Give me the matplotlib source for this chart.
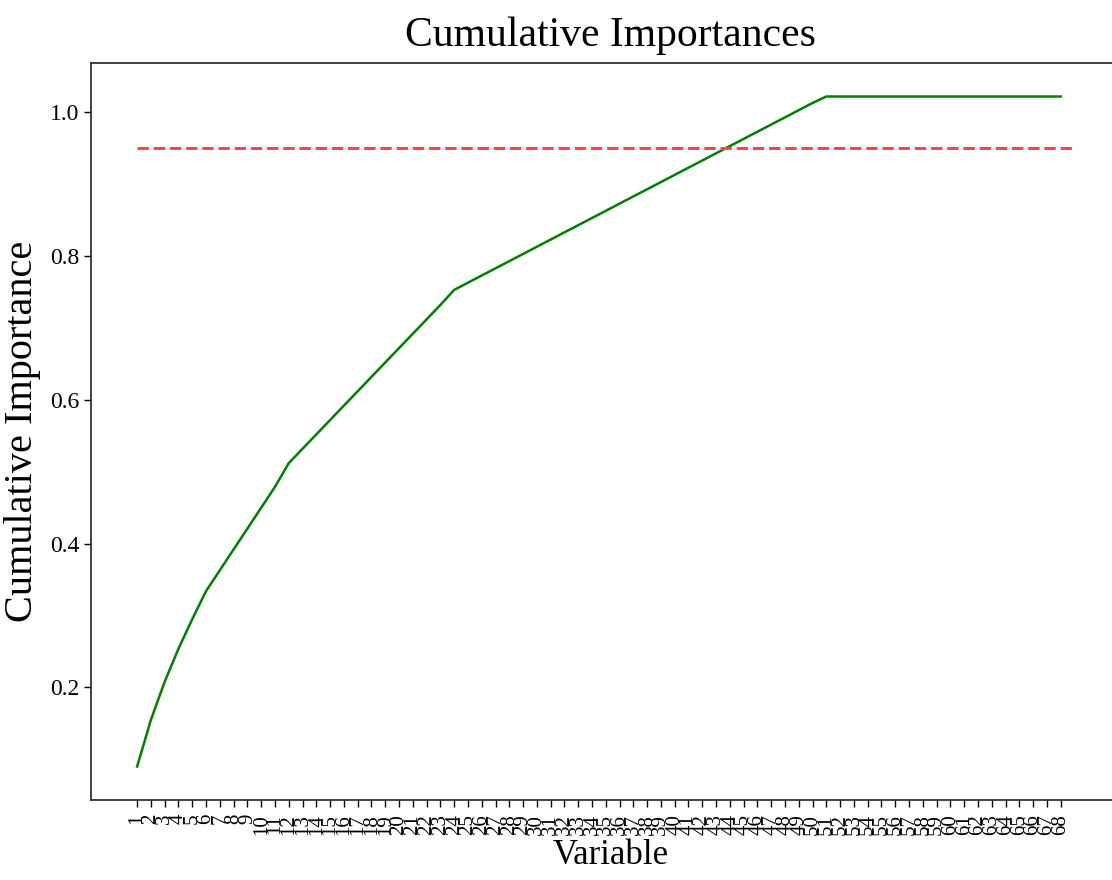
import matplotlib
matplotlib.use("Agg")
import matplotlib.pyplot as plt
import numpy as np

# Data
variable_labels = [str(i) for i in range(1, 69)]
cumulative_importances = [
    0.090, 0.155, 0.208, 0.254, 0.295, 0.334, 0.363, 0.392, 0.421, 0.450,
    0.479, 0.512, 0.532, 0.552, 0.572, 0.592, 0.612, 0.632, 0.652, 0.672,
    0.692, 0.712, 0.732, 0.753, 0.763, 0.773, 0.783, 0.793, 0.803, 0.813,
    0.823, 0.833, 0.843, 0.853, 0.863, 0.873, 0.883, 0.893, 0.903, 0.913,
    0.923, 0.933, 0.943, 0.953, 0.963, 0.973, 0.983, 0.993, 1.003, 1.013,
    1.022, 1.022, 1.022, 1.022, 1.022, 1.022, 1.022, 1.022, 1.022, 1.022,
    1.022, 1.022, 1.022, 1.022, 1.022, 1.022, 1.022, 1.022,
]
threshold = 0.95

plt.rcParams['font.family'] = ['Liberation Serif', 'DejaVu Serif']

fig = plt.figure(figsize=(11.12, 8.8), dpi=100)
ax = fig.add_axes([0.0818, 0.0909, 0.934, 0.8375])

x_values = list(range(len(cumulative_importances)))
ax.plot(x_values, cumulative_importances, color='g', linewidth=1.8)
ax.hlines(y=threshold, xmin=0, xmax=len(cumulative_importances),
          color='#ff4444', linestyles='dashed', linewidth=2.2)
ax.set_xlim(-3.35, 72.0)

ax.set_xticks(x_values)
ax.set_xticklabels(variable_labels, rotation='vertical', fontsize=15)
ax.tick_params(axis='y', labelsize=17, length=5, width=1.0)
ax.tick_params(axis='x', length=5, width=1.0, pad=5)
ax.set_yticks([0.2, 0.4, 0.6, 0.8, 1.0])

ax.set_xlabel('Variable', fontsize=25, labelpad=3)
ax.set_ylabel('Cumulative Importance', fontsize=29, labelpad=6)
ax.set_title('Cumulative Importances', fontsize=30, pad=12)

for s in ax.spines.values():
    s.set_linewidth(1.3)
    s.set_color('#333333')

fig.savefig('out.png', dpi=100)
